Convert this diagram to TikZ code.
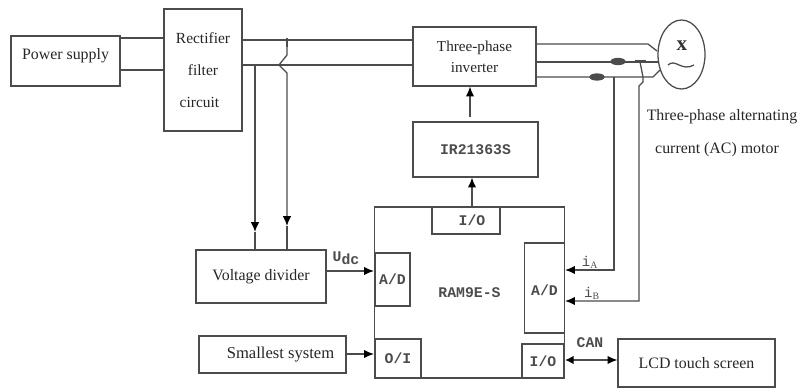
\documentclass[tikz,border=0pt]{standalone}
\usepackage{fontspec}
\setmainfont{Liberation Serif}
\setmonofont{Liberation Mono}
\usetikzlibrary{arrows.meta}
\usetikzlibrary{shapes.geometric}
\tikzset{
  wire/.style={draw=black!70,line width=0.9pt},
  arrowwire/.style={wire,-{Latex[black,length=7pt,width=6pt]}},
  block/.style 2 args={draw=black!70,line width=0.9pt,inner sep=0pt,text=black!85,
    font=\fontsize{11.3}{13}\selectfont,align=center,
    minimum width=#1*0.025cm,minimum height=#2*0.025cm},
  port/.style 2 args={block={#1}{#2},text=black!70,font=\ttfamily\bfseries\fontsize{10.5}{12}\selectfont},
  tag/.style={inner sep=0pt,text=black!70,font=\ttfamily\bfseries\fontsize{10.5}{12}\selectfont},
  note/.style={inner sep=0pt,text=black!85,font=\fontsize{11.3}{13}\selectfont},
}
\begin{document}
\begin{tikzpicture}[x=0.025cm,y=-0.025cm]
  % Parameters
  \def\railt{40}      % upper dc rail
  \def\railb{65}      % lower dc rail
  \def\phasea{44}     % first motor phase
  \def\phaseb{62}     % second motor phase
  \def\phasec{77}     % third motor phase
  \def\sensa{614}     % wire of current i_A
  \def\sensb{639}     % wire of current i_B

  \useasboundingbox (0,0) rectangle (797,388);

  % Controller first, its ports on top
  \node[port={190}{171}] (ram) at (469.5,292.5) {RAM9E-S};
  \node[port={68}{27}] (ioa) at (466,220.5) {\hspace*{8.5pt}I/O};
  \node[port={35}{53}] (ada) at (392.5,279.5) {A/D};
  \node[port={46}{39}] (oi) at (398,358.5) {O/I};
  \node[port={40}{90}] (adb) at (544.5,288) {\raisebox{-11.4pt}{A/D}};
  \node[port={42}{34}] (iob) at (543,361) {I/O};

  % Main blocks
  \node[block={109}{50}] (power) at (65.5,61) {\raisebox{10pt}{Power supply}};
  \node[block={78}{122},font=\fontsize{11}{22.7}\selectfont] (rect) at (203,70) {Rectifier\\filter\hspace*{6pt}\\circuit\hspace*{5pt}};
  \node[block={123}{59},font=\fontsize{10.8}{15}\selectfont] (inv) at (474.5,56.5) {Three-phase\\inverter};
  \node[port={125}{55}] (ir) at (475.5,149.5) {IR21363S};
  \node[block={130}{53}] (volt) at (261,276.5) {Voltage divider};
  \node[block={147}{37},font=\fontsize{11.8}{13}\selectfont] (small) at (272.5,354.5) {\hspace*{11.4pt}Smallest system};
  \node[block={157}{48}] (lcd) at (696.5,363) {LCD touch screen};

  % Motor
  \node[draw=black!70,line width=0.9pt,ellipse,inner sep=0pt,minimum width=47*0.025cm,minimum height=69*0.025cm] (motor) at (681.5,54.5) {};
  \node[inner sep=0pt,font=\bfseries\fontsize{15}{15}\selectfont,text=black!80] (mx) at (682,45.5) {x};
  \draw[wire] (668,65) .. controls (675,58) and (682,72) .. (694,65);
  \node[note] (moa) at (722,117) {Three-phase alternating};
  \node[note] (mob) at (717,150) {current (AC) motor};

  % Input and dc rails
  \draw[wire] (power.east |- 0,38) -- (rect.west |- 0,38);
  \draw[wire] (power.east |- 0,70) -- (rect.west |- 0,70);
  \draw[wire] (rect.east |- 0,\railt) -- (inv.west |- 0,\railt);
  \draw[wire] (rect.east |- 0,\railb) -- (inv.west |- 0,\railb);
  \draw[arrowwire] (255,\railb) -- (255,232);
  \draw[wire] (255,232) -- (volt.north -| 255,0);
  \draw[arrowwire] (287,\railt) -- (287,55) -- (279,65) -- (287,73) -- (287,226);
  \draw[wire] (287,226) -- (volt.north -| 287,0);
  \draw[black!70,line width=2pt] (287,38) -- (287,47);

  % Output phases
  \draw[wire] (inv.east |- 0,\phasea) -- (648,\phasea) -- (657,51);
  \draw[wire] (inv.east |- 0,\phaseb) -- (658,\phaseb);
  \draw[wire] (inv.east |- 0,\phasec) -- (653,\phasec) -- (660,70);
  \draw[wire,fill=black!70] (618,61.5) ellipse (7 and 3);
  \draw[wire,fill=black!70] (597,77) ellipse (7 and 3);
  \draw[black!70,line width=2pt] (635,61.5) -- (646,61.5);
  \draw[arrowwire] (\sensa,\phasec) -- (\sensa,270) -- (ram.east |- 0,270);
  \draw[arrowwire] (640,\phaseb) -- (643,\phasec) -- (643,82) -- (\sensb,86) -- (\sensb,301) -- (ram.east |- 0,301);
  \node[note,font=\ttfamily\fontsize{10}{11}\selectfont,text=black!70] (ia) at (590,262) {i$_{\mathrm{A}}$};
  \node[note,font=\ttfamily\fontsize{10}{11}\selectfont,text=black!70] (ib) at (592,293) {i$_{\mathrm{B}}$};

  % Signal paths
  \draw[arrowwire] (ir.north -| 470,0) ++(0,-4) -- (inv.south -| 470,0);
  \draw[arrowwire] (ram.north -| 472,0) -- (ir.south -| 472,0);
  \draw[arrowwire] (volt.east |- 0,271) -- (ram.west |- 0,271);
  \draw[arrowwire] (small.east |- 0,354) -- (ram.west |- 0,354);
  \draw[wire,{Latex[black,length=6pt,width=6pt]}-{Latex[black,length=7pt,width=6pt]}] (ram.east |- 0,360) -- (lcd.west |- 0,360);
  \node[tag] (udc) at (346,258) {U\raisebox{-2.5pt}{dc}};
  \node[tag] (can) at (590,343) {CAN};
\end{tikzpicture}
\end{document}
